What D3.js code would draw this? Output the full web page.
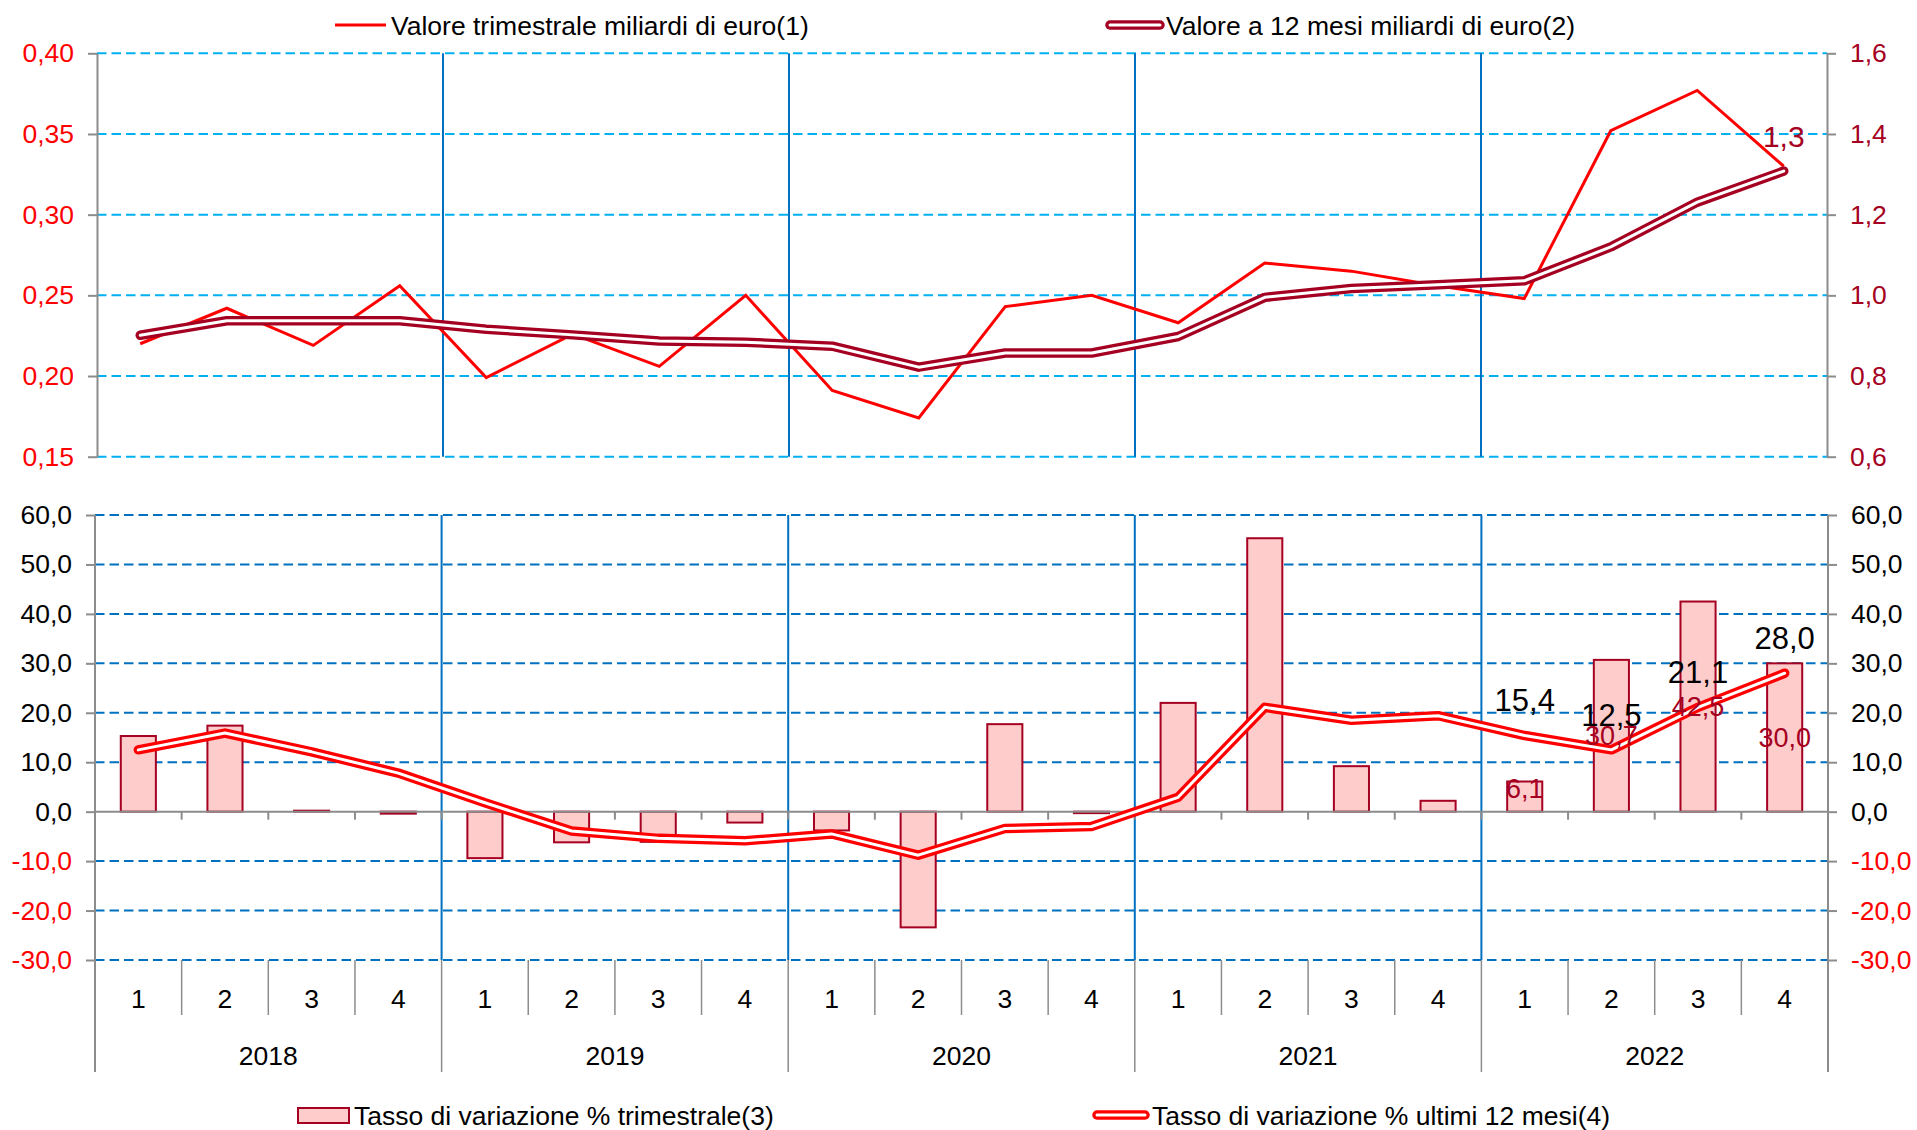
<!DOCTYPE html>
<html lang="it">
<head>
<meta charset="utf-8">
<script src="https://cdn.jsdelivr.net/npm/d3@7"></script>
<style>
  html, body { margin: 0; padding: 0; background: #ffffff; }
  svg { display: block; font-family: "Liberation Sans", Arial, Helvetica, sans-serif; }
</style>
</head>
<body>
<svg id="chart" width="1917" height="1130"></svg>
<script>
// ---- Dati ----
const anni = ["2018", "2019", "2020", "2021", "2022"];
const trimestri = ["1", "2", "3", "4"];

// Valore trimestrale, miliardi di euro (asse sinistro, pannello superiore)
const valoreTrimestrale = [0.220, 0.242, 0.219, 0.256, 0.199, 0.226, 0.206, 0.250,
                           0.191, 0.174, 0.243, 0.250, 0.233, 0.270, 0.265, 0.256,
                           0.248, 0.352, 0.377, 0.330];
// Valore a 12 mesi, miliardi di euro (asse destro, pannello superiore)
const valore12Mesi = [0.901, 0.937, 0.937, 0.937, 0.916, 0.902, 0.887, 0.884,
                      0.874, 0.822, 0.857, 0.857, 0.898, 0.995, 1.017, 1.026,
                      1.036, 1.120, 1.231, 1.308];
// Tasso di variazione % trimestrale (barre, pannello inferiore)
const tassoTrimestrale = [15.3, 17.4, 0.2, -0.4, -9.4, -6.2, -6.1, -2.2,
                          -3.8, -23.4, 17.7, -0.3, 22.0, 55.3, 9.2, 2.2,
                          6.1, 30.7, 42.5, 30.0];
// Tasso di variazione % ultimi 12 mesi (linea, pannello inferiore)
const tasso12Mesi = [12.5, 15.9, 12.1, 7.8, 1.8, -3.9, -5.4, -5.9,
                     -4.5, -8.8, -3.4, -3.0, 2.9, 21.1, 18.5, 19.4,
                     15.4, 12.5, 21.1, 28.0];

const ticksSup = [0.15, 0.20, 0.25, 0.30, 0.35, 0.40];
const ticksSupDx = [0.6, 0.8, 1.0, 1.2, 1.4, 1.6];
const ticksInf = [-30, -20, -10, 0, 10, 20, 30, 40, 50, 60];

const legendaSup = ["Valore trimestrale miliardi di euro(1)", "Valore a 12 mesi miliardi di euro(2)"];
const legendaInf = ["Tasso di variazione % trimestrale(3)", "Tasso di variazione % ultimi 12 mesi(4)"];

// ---- Impostazioni ----
const categorie = [];
anni.forEach(a => trimestri.forEach(t => categorie.push(a + "-" + t)));

const loc = d3.formatLocale({ decimal: ",", thousands: ".", grouping: [3], currency: ["€", ""], minus: "-" });
const f2 = loc.format(".2f"), f1 = loc.format(".1f");

const ROSSO = "#ff0000", BORDEAUX = "#a50021", ROSA = "#ffcccc";
const GRIGIO = "#8c8c8c", AZZURRO = "#00b0f0", BLU = "#0070c0";
const FS = 26.5;

const svg = d3.select("#chart");

// ---- Scale ----
const xSup = d3.scaleBand().domain(categorie).range([97, 1827]);
const xInf = d3.scaleBand().domain(categorie).range([95, 1828]);
const ySx = d3.scaleLinear().domain([0.15, 0.40]).range([456.7, 53.3]);
const yDx = d3.scaleLinear().domain([0.6, 1.6]).range([456.7, 53.3]);
const yInf = d3.scaleLinear().domain([-30, 60]).range([960, 515]);

const cx = (x, d) => x(d) + x.bandwidth() / 2;

// ============ Pannello superiore ============
const sup = svg.append("g");

// griglia orizzontale
sup.append("g").selectAll("line").data(ticksSup).join("line")
  .attr("x1", xSup.range()[0]).attr("x2", xSup.range()[1])
  .attr("y1", d => ySx(d)).attr("y2", d => ySx(d))
  .attr("stroke", AZZURRO).attr("stroke-width", 2).attr("stroke-dasharray", "9.5,5");

// separatori annuali
sup.append("g").selectAll("line").data(anni.slice(1)).join("line")
  .attr("x1", d => xSup(d + "-1")).attr("x2", d => xSup(d + "-1"))
  .attr("y1", ySx(0.40)).attr("y2", ySx(0.15))
  .attr("stroke", BLU).attr("stroke-width", 2);

// asse sinistro
const axSx = sup.append("g").attr("transform", `translate(${xSup.range()[0]},0)`)
  .call(d3.axisLeft(ySx).tickValues(ticksSup).tickFormat(f2).tickSizeInner(9).tickSizeOuter(0).tickPadding(14));
axSx.select(".domain").attr("stroke", GRIGIO).attr("stroke-width", 2);
axSx.selectAll(".tick line").attr("stroke", GRIGIO).attr("stroke-width", 2);
axSx.selectAll(".tick text").attr("fill", ROSSO).attr("font-size", FS).attr("font-family", null);

// asse destro
const axDx = sup.append("g").attr("transform", `translate(${xSup.range()[1]},0)`)
  .call(d3.axisRight(yDx).tickValues(ticksSupDx).tickFormat(f1).tickSizeInner(9).tickSizeOuter(0).tickPadding(14));
axDx.select(".domain").attr("stroke", GRIGIO).attr("stroke-width", 2);
axDx.selectAll(".tick line").attr("stroke", GRIGIO).attr("stroke-width", 2);
axDx.selectAll(".tick text").attr("fill", BORDEAUX).attr("font-size", FS).attr("font-family", null);

// linea valore trimestrale
const lineaSx = d3.line().x((d, i) => cx(xSup, categorie[i])).y(d => ySx(d));
sup.append("path").datum(valoreTrimestrale).attr("d", lineaSx)
  .attr("fill", "none").attr("stroke", ROSSO).attr("stroke-width", 3).attr("stroke-linejoin", "miter");

// linea doppia valore a 12 mesi
const lineaDx = d3.line().x((d, i) => cx(xSup, categorie[i])).y(d => yDx(d));
function doppia(g, dati, gen, colore) {
  g.append("path").datum(dati).attr("d", gen).attr("fill", "none")
    .attr("stroke", colore).attr("stroke-width", 9.5)
    .attr("stroke-linecap", "round").attr("stroke-linejoin", "round");
  g.append("path").datum(dati).attr("d", gen).attr("fill", "none")
    .attr("stroke", "#ffffff").attr("stroke-width", 3)
    .attr("stroke-linecap", "round").attr("stroke-linejoin", "round");
}
doppia(sup, valore12Mesi, lineaDx, BORDEAUX);

// etichetta ultimo valore a 12 mesi
const ultimo = valore12Mesi.length - 1;
sup.append("text")
  .attr("x", cx(xSup, categorie[ultimo]))
  .attr("y", yDx(valore12Mesi[ultimo]) - 35)
  .attr("dy", "0.35em").attr("text-anchor", "middle")
  .attr("font-size", 30).attr("fill", BORDEAUX)
  .text(f1(valore12Mesi[ultimo]));

// legenda superiore
const legS = svg.append("g").attr("font-size", FS);
legS.append("line").attr("x1", 335).attr("x2", 386).attr("y1", 25).attr("y2", 25)
  .attr("stroke", ROSSO).attr("stroke-width", 3);
legS.append("text").attr("x", 391).attr("y", 34.5).attr("fill", "#000").text(legendaSup[0]);
const swS = legS.append("g");
swS.append("line").attr("x1", 1110).attr("x2", 1160).attr("y1", 25).attr("y2", 25)
  .attr("stroke", BORDEAUX).attr("stroke-width", 9.5).attr("stroke-linecap", "round");
swS.append("line").attr("x1", 1110).attr("x2", 1160).attr("y1", 25).attr("y2", 25)
  .attr("stroke", "#fff").attr("stroke-width", 3).attr("stroke-linecap", "round");
legS.append("text").attr("x", 1166).attr("y", 34.5).attr("fill", "#000").text(legendaSup[1]);

// ============ Pannello inferiore ============
const inf = svg.append("g");

// griglia orizzontale (escluso lo zero, che è l'asse delle categorie)
inf.append("g").selectAll("line").data(ticksInf.filter(d => d !== 0)).join("line")
  .attr("x1", xInf.range()[0]).attr("x2", xInf.range()[1])
  .attr("y1", d => yInf(d)).attr("y2", d => yInf(d))
  .attr("stroke", BLU).attr("stroke-width", 2).attr("stroke-dasharray", "9.5,5");

// separatori annuali (blu nell'area del grafico)
inf.append("g").selectAll("line").data(anni.slice(1)).join("line")
  .attr("x1", d => xInf(d + "-1")).attr("x2", d => xInf(d + "-1"))
  .attr("y1", yInf(60)).attr("y2", yInf(-30))
  .attr("stroke", BLU).attr("stroke-width", 2);

// assi verticali
function assiVerticali(axis, x) {
  const g = inf.append("g").attr("transform", `translate(${x},0)`)
    .call(axis(yInf).tickValues(ticksInf).tickFormat(f1).tickSizeInner(9).tickSizeOuter(0).tickPadding(14));
  g.select(".domain").remove();
  g.selectAll(".tick line").attr("stroke", GRIGIO).attr("stroke-width", 2);
  g.selectAll(".tick text").attr("font-size", FS).attr("font-family", null)
    .attr("fill", d => d < 0 ? ROSSO : "#000");
  return g;
}
assiVerticali(d3.axisLeft, xInf.range()[0]);
assiVerticali(d3.axisRight, xInf.range()[1]);

// barre del tasso trimestrale
const larg = xInf.bandwidth() * 0.405;
inf.append("g").selectAll("rect").data(tassoTrimestrale).join("rect")
  .attr("x", (d, i) => cx(xInf, categorie[i]) - larg / 2)
  .attr("width", larg)
  .attr("y", d => yInf(Math.max(0, d)))
  .attr("height", d => Math.abs(yInf(d) - yInf(0)))
  .attr("fill", ROSA).attr("stroke", BORDEAUX).attr("stroke-width", 2);

// asse delle categorie sullo zero, con tacche ai confini dei trimestri
inf.append("line").attr("x1", xInf.range()[0]).attr("x2", xInf.range()[1])
  .attr("y1", yInf(0)).attr("y2", yInf(0)).attr("stroke", GRIGIO).attr("stroke-width", 2);
inf.append("g").selectAll("line").data(categorie.slice(1)).join("line")
  .attr("x1", d => xInf(d)).attr("x2", d => xInf(d))
  .attr("y1", yInf(0)).attr("y2", yInf(0) + 8)
  .attr("stroke", GRIGIO).attr("stroke-width", 2);

// tabella etichette categorie sotto il grafico
const baseY = yInf(-30);
const tab = inf.append("g");
// linee verticali esterne (assi) fino in fondo
[xInf.range()[0], xInf.range()[1]].forEach(x => {
  tab.append("line").attr("x1", x).attr("x2", x).attr("y1", yInf(60)).attr("y2", 1072)
    .attr("stroke", GRIGIO).attr("stroke-width", 2);
});
tab.selectAll("line.q").data(categorie.slice(1)).join("line").attr("class", "q")
  .attr("x1", d => xInf(d)).attr("x2", d => xInf(d))
  .attr("y1", baseY).attr("y2", d => d.endsWith("-1") ? 1072 : 1015)
  .attr("stroke", GRIGIO).attr("stroke-width", 1.5);
tab.selectAll("text.q").data(categorie).join("text").attr("class", "q")
  .attr("x", d => cx(xInf, d)).attr("y", 1007.5).attr("text-anchor", "middle")
  .attr("font-size", FS).attr("fill", "#000").text(d => d.split("-")[1]);
tab.selectAll("text.a").data(anni).join("text").attr("class", "a")
  .attr("x", d => (xInf(d + "-1") + xInf(d + "-4") + xInf.bandwidth()) / 2)
  .attr("y", 1064.5).attr("text-anchor", "middle")
  .attr("font-size", FS).attr("fill", "#000").text(d => d);

// linea doppia del tasso a 12 mesi
const lineaInf = d3.line().x((d, i) => cx(xInf, categorie[i])).y(d => yInf(d));
doppia(inf, tasso12Mesi, lineaInf, ROSSO);

// etichette del 2022
const ultimi = d3.range(16, 20);
inf.append("g").selectAll("text").data(ultimi).join("text")
  .attr("x", i => cx(xInf, categorie[i]))
  .attr("y", i => Math.min((yInf(tassoTrimestrale[i]) + yInf(0)) / 2, yInf(0) - 23))
  .attr("dy", "0.35em").attr("text-anchor", "middle")
  .attr("font-size", 27).attr("fill", BORDEAUX)
  .text(i => f1(tassoTrimestrale[i]));
inf.append("g").selectAll("text").data(ultimi).join("text")
  .attr("x", i => cx(xInf, categorie[i]))
  .attr("y", i => yInf(tasso12Mesi[i]) - 35)
  .attr("dy", "0.35em").attr("text-anchor", "middle")
  .attr("font-size", 31).attr("fill", "#000")
  .text(i => f1(tasso12Mesi[i]));

// legenda inferiore
const legI = svg.append("g").attr("font-size", FS);
legI.append("rect").attr("x", 298).attr("y", 1108).attr("width", 51).attr("height", 15)
  .attr("fill", ROSA).attr("stroke", BORDEAUX).attr("stroke-width", 2);
legI.append("text").attr("x", 354).attr("y", 1124.5).attr("fill", "#000").text(legendaInf[0]);
legI.append("line").attr("x1", 1097).attr("x2", 1145).attr("y1", 1115).attr("y2", 1115)
  .attr("stroke", ROSSO).attr("stroke-width", 9.5).attr("stroke-linecap", "round");
legI.append("line").attr("x1", 1097).attr("x2", 1145).attr("y1", 1115).attr("y2", 1115)
  .attr("stroke", "#fff").attr("stroke-width", 3).attr("stroke-linecap", "round");
legI.append("text").attr("x", 1152).attr("y", 1124.5).attr("fill", "#000").text(legendaInf[1]);
</script>
</body>
</html>
